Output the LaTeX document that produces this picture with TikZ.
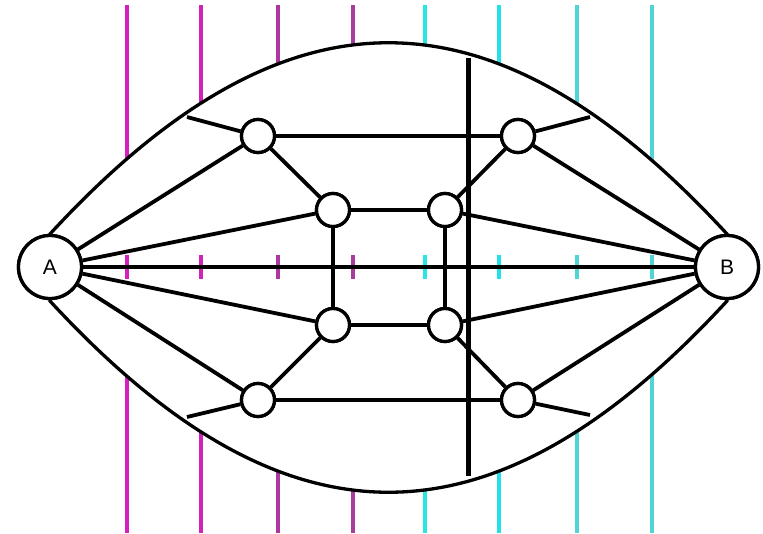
\documentclass[tikz,border=0pt]{standalone}
\usepackage{fontspec}
\setmainfont{Liberation Sans}
\definecolor{ma}{RGB}{215,30,190}
\definecolor{mb}{RGB}{210,35,185}
\definecolor{mc}{RGB}{172,55,160}
\definecolor{md}{RGB}{168,62,155}
\definecolor{ca}{RGB}{40,230,230}
\definecolor{cb}{RGB}{35,225,230}
\definecolor{cc}{RGB}{80,212,212}
\definecolor{cd}{RGB}{80,212,212}
\tikzset{
  vline/.style={line width=4pt},
  edge/.style={line width=3.8pt, black},
  big/.style={circle, draw=black, line width=3.3pt, fill=white, minimum size=63pt, inner sep=0pt, font=\fontsize{21}{21}\selectfont},
  small/.style={circle, draw=black, line width=3.3pt, fill=white, minimum size=33pt, inner sep=0pt},
  lensline/.style={line width=3.3pt, black, fill=white},
  thickline/.style={line width=5pt, black}
}
\begin{document}
\begin{tikzpicture}[x=1pt,y=-1pt]
\useasboundingbox (0,0) rectangle (763,533);
% coloured verticals
\foreach \x/\c in {127/ma,201/mb,278/mc,353/md,425/ca,499/cb,577/cc,652/cd}{
  \draw[vline,\c] (\x,5) -- (\x,533);
}
% lens
\draw[lensline] (50,234) .. controls (285,-21) and (492,-21) .. (727,234)
  -- (727,301) .. controls (492,556) and (285,556) .. (50,301) -- cycle;
% ticks
\foreach \x/\c in {127/ma,201/mb,278/mc,353/md,425/ca,499/cb,577/cc,652/cd}{
  \draw[vline,\c] (\x,255) -- (\x,279);
}
% nodes
\node[big] (A) at (50,267) {A};
\node[big] (B) at (727,267) {B};
\node[small] (n1) at (258,136) {};
\node[small] (n2) at (333,210) {};
\node[small] (n3) at (333,325) {};
\node[small] (n4) at (258,400) {};
\node[small] (n5) at (518,136) {};
\node[small] (n6) at (445,210) {};
\node[small] (n7) at (445,325) {};
\node[small] (n8) at (518,400) {};
\coordinate (l1) at (187,117);
\coordinate (l4) at (187,417);
\coordinate (l5) at (590,117);
\coordinate (l8) at (590,415);
\coordinate (t1) at (468,58);
\coordinate (t2) at (468,476);
% edges
\draw[edge] (A) -- (B);
\draw[edge] (A) -- (n1);
\draw[edge] (A) -- (n2);
\draw[edge] (A) -- (n3);
\draw[edge] (A) -- (n4);
\draw[edge] (B) -- (n5);
\draw[edge] (B) -- (n6);
\draw[edge] (B) -- (n7);
\draw[edge] (B) -- (n8);
\draw[edge] (n1) -- (l1);
\draw[edge] (n4) -- (l4);
\draw[edge] (n5) -- (l5);
\draw[edge] (n8) -- (l8);
\draw[edge] (n1) -- (n5);
\draw[edge] (n4) -- (n8);
\draw[edge] (n1) -- (n2);
\draw[edge] (n3) -- (n4);
\draw[edge] (n2) -- (n6);
\draw[edge] (n3) -- (n7);
\draw[edge] (n2) -- (n3);
\draw[edge] (n6) -- (n7);
\draw[edge] (n6) -- (n5);
\draw[edge] (n7) -- (n8);
\draw[thickline] (t1) -- (t2);
% redraw nodes on top
\node[big] at (A) {A};
\node[big] at (B) {B};
\foreach \n in {n1,n2,n3,n4,n5,n6,n7,n8}{ \node[small] at (\n) {}; }
\end{tikzpicture}
\end{document}
